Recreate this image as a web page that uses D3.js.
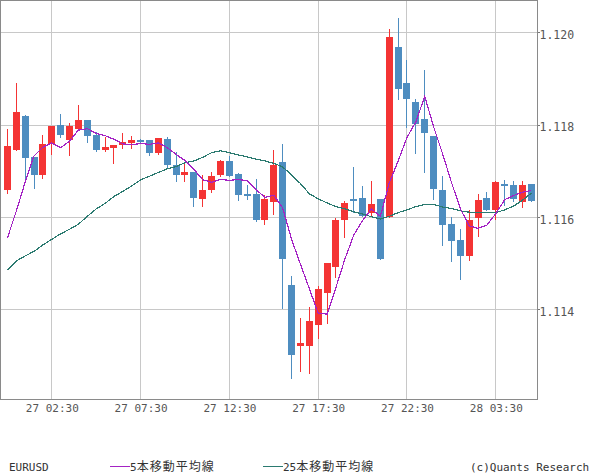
<!DOCTYPE html>
<html><head><meta charset="utf-8">
<script src="https://cdn.jsdelivr.net/npm/d3@7"></script>
<style>body{margin:0;background:#fff}svg{display:block}</style>
</head><body><svg id="c" width="600" height="475"></svg>
<script>
const openP=[1.11657,1.11745,1.11819,1.11730,1.11691,1.11757,1.11799,1.11767,1.11791,1.11810,
1.11777,1.11745,1.11750,1.11755,1.11761,1.11766,1.11766,1.11738,1.11769,1.11712,
1.11691,1.11697,1.11639,1.11657,1.11691,1.11720,1.11693,1.11649,1.11649,1.11594,
1.11633,1.11719,1.11452,1.11320,1.11320,1.11366,1.11435,1.11492,1.11594,1.11639,
1.11641,1.11608,1.11639,1.11600,1.11968,1.11890,1.11849,1.11812,1.11775,1.11658,
1.11584,1.11550,1.11516,1.11598,1.11641,1.11615,1.11671,1.11669,1.11632,1.11671];
const highP=[1.11790,1.11890,1.11821,1.11730,1.11777,1.11797,1.11823,1.11803,1.11842,1.11810,
1.11784,1.11773,1.11756,1.11782,1.11775,1.11768,1.11766,1.11771,1.11773,1.11740,
1.11718,1.11697,1.11691,1.11697,1.11723,1.11731,1.11694,1.11669,1.11682,1.11647,
1.11745,1.11758,1.11472,1.11380,1.11404,1.11450,1.11500,1.11597,1.11634,1.11708,
1.11667,1.11678,1.11639,1.12007,1.12031,1.11940,1.11855,1.11918,1.11775,1.11688,
1.11600,1.11573,1.11615,1.11649,1.11654,1.11678,1.11680,1.11678,1.11678,1.11671];
const lowP=[1.11652,1.11745,1.11678,1.11663,1.11683,1.11737,1.11774,1.11735,1.11791,1.11763,
1.11743,1.11743,1.11717,1.11750,1.11750,1.11762,1.11734,1.11737,1.11706,1.11678,
1.11678,1.11624,1.11624,1.11654,1.11689,1.11688,1.11637,1.11639,1.11591,1.11585,
1.11607,1.11403,1.11251,1.11266,1.11262,1.11338,1.11370,1.11470,1.11557,1.11610,
1.11602,1.11604,1.11509,1.11600,1.11856,1.11795,1.11739,1.11696,1.11639,1.11539,
1.11503,1.11466,1.11507,1.11559,1.11615,1.11596,1.11626,1.11634,1.11621,1.11634];
const closeP=[1.11753,1.11827,1.11728,1.11691,1.11758,1.11797,1.11777,1.11797,1.11810,1.11776,
1.11745,1.11751,1.11756,1.11762,1.11766,1.11762,1.11738,1.11771,1.11713,1.11691,
1.11697,1.11641,1.11658,1.11688,1.11721,1.11688,1.11648,1.11644,1.11593,1.11639,
1.11712,1.11509,1.11301,1.11326,1.11374,1.11443,1.11500,1.11593,1.11630,1.11634,
1.11602,1.11628,1.11509,1.11990,1.11876,1.11856,1.11801,1.11782,1.11661,1.11583,
1.11548,1.11516,1.11593,1.11636,1.11615,1.11675,1.11667,1.11639,1.11669,1.11634];
const ma5=[1.11554,1.11612,1.11675,1.11732,1.11751,1.11760,1.11750,1.11764,1.11788,1.11791,
1.11781,1.11776,1.11768,1.11758,1.11756,1.11759,1.11757,1.11760,1.11750,1.11735,
1.11722,1.11703,1.11680,1.11675,1.11681,1.11679,1.11681,1.11678,1.11659,1.11642,
1.11647,1.11619,1.11551,1.11497,1.11444,1.11391,1.11389,1.11447,1.11508,1.11560,
1.11592,1.11617,1.11601,1.11673,1.11721,1.11772,1.11806,1.11861,1.11795,1.11737,
1.11675,1.11618,1.11580,1.11575,1.11582,1.11607,1.11637,1.11646,1.11653,1.11657];
const ma25=[1.11485,1.11504,1.11515,1.11525,1.11539,1.11551,1.11563,1.11573,1.11584,1.11601,
1.11617,1.11629,1.11644,1.11655,1.11667,1.11680,1.11688,1.11696,1.11704,1.11709,
1.11717,1.11721,1.11729,1.11739,1.11743,1.11739,1.11734,1.11730,1.11725,1.11721,
1.11716,1.11708,1.11691,1.11672,1.11650,1.11639,1.11630,1.11622,1.11617,1.11611,
1.11606,1.11600,1.11595,1.11601,1.11609,1.11615,1.11622,1.11627,1.11627,1.11621,
1.11618,1.11613,1.11610,1.11609,1.11609,1.11609,1.11615,1.11623,1.11636,1.11651];
const xTickIdx=[5,15,25,35,45,55];
const xTickLabels=["27 02:30","27 07:30","27 12:30","27 17:30","27 22:30","28 03:30"];
const yTicks=[1.114,1.116,1.118,1.120];
const symbolName="EURUSD";
const legendNames=[["5","本移動平均線"],["25","本移動平均線"]];
const credit="(c)Quants Research";

const W=537,H=399;
const UP="#f43434",DOWN="#4e8dc0",C5="#a423c4",C25="#2b7a70";
const MONO="'DejaVu Sans Mono', monospace", CJK="'Noto Sans CJK JP', sans-serif";
const svg=d3.select("#c");
const x=d3.scaleLinear().domain([-0.833,59.64]).range([0,W]);
const y=d3.scaleLinear().domain([1.114,1.120]).range([309,32.3]);
const px=i=>Math.floor(x(i))+0.5;

// grid
const g=svg.append("g").attr("shape-rendering","crispEdges");
g.selectAll(".hg").data(yTicks).enter().append("line")
 .attr("x1",0).attr("x2",W).attr("y1",d=>Math.round(y(d))+0.5).attr("y2",d=>Math.round(y(d))+0.5)
 .attr("stroke","#c8c8c8");
g.selectAll(".vg").data(xTickIdx).enter().append("line")
 .attr("x1",d=>px(d)).attr("x2",d=>px(d)).attr("y1",0).attr("y2",H)
 .attr("stroke","#c8c8c8");

// candles
const idx=d3.range(closeP.length);
const cg=svg.append("g").attr("shape-rendering","crispEdges");
cg.selectAll(".wick").data(idx).enter().append("line")
 .attr("x1",px).attr("x2",px)
 .attr("y1",i=>Math.round(y(highP[i]))).attr("y2",i=>Math.round(y(lowP[i]))+1)
 .attr("stroke",i=>closeP[i]>=openP[i]?UP:DOWN);
cg.selectAll(".body").data(idx).enter().append("rect")
 .attr("x",i=>Math.round(x(i)-3.5)).attr("width",7)
 .attr("y",i=>Math.round(y(Math.max(openP[i],closeP[i]))))
 .attr("height",i=>Math.max(2,Math.round(y(Math.min(openP[i],closeP[i])))-Math.round(y(Math.max(openP[i],closeP[i])))))
 .attr("fill",i=>closeP[i]>=openP[i]?UP:DOWN);

// MA lines
const line=arr=>d3.line().x(i=>x(i)).y(i=>y(arr[i]))(idx);
svg.append("path").attr("d",line(ma25)).attr("fill","none").attr("stroke",C25).attr("stroke-width",1.2).attr("shape-rendering","crispEdges");
svg.append("path").attr("d",line(ma5)).attr("fill","none").attr("stroke",C5).attr("stroke-width",1.2).attr("shape-rendering","crispEdges");

// frame
svg.append("rect").attr("x",0.5).attr("y",0.5).attr("width",W).attr("height",H-0.5)
 .attr("fill","none").attr("stroke","#8a8a8a").attr("shape-rendering","crispEdges");

// axes
const xa=svg.append("g").attr("transform",`translate(0,${H})`)
 .call(d3.axisBottom(x).tickValues(xTickIdx).tickSize(0).tickPadding(5).tickFormat((d,k)=>xTickLabels[k]));
xa.select(".domain").remove();
xa.selectAll("text").attr("font-family",MONO).attr("font-size",11).attr("fill","#555");

const ya=svg.append("g").attr("transform",`translate(${W+0.5},0)`)
 .call(d3.axisRight(y).tickValues(yTicks).tickSize(2).tickPadding(0).tickFormat(d3.format(".3f")));
ya.select(".domain").remove();
ya.selectAll("line").attr("stroke","#777").attr("shape-rendering","crispEdges");
ya.selectAll("text").attr("font-family",MONO).attr("font-size",11.5).attr("fill","#555").attr("dy","0.55em");

// legend
const ly=470.5;
svg.append("text").attr("x",9).attr("y",ly).attr("font-family",MONO).attr("font-size",11).attr("fill","#333").text(symbolName);
const legX=[110,263], legC=[C5,C25];
legendNames.forEach((nm,k)=>{
  svg.append("line").attr("x1",legX[k]).attr("x2",legX[k]+20).attr("y1",466.5).attr("y2",466.5)
   .attr("stroke",legC[k]).attr("shape-rendering","crispEdges");
  const t=svg.append("text").attr("x",legX[k]+20).attr("y",ly).attr("fill","#333");
  t.append("tspan").attr("font-family",MONO).attr("font-size",11).text(nm[0]);
  t.append("tspan").attr("font-family",CJK).attr("font-size",12).attr("letter-spacing",1).text(nm[1]);
});
svg.append("text").attr("x",470).attr("y",ly).attr("font-family",MONO).attr("font-size",11).attr("fill","#333").text(credit);
</script></body></html>
